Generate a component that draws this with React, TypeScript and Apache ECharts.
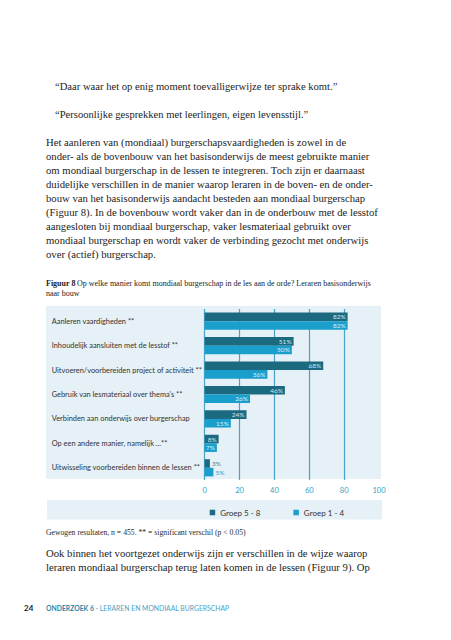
import React, { useEffect, useRef } from "react";
import * as echarts from "echarts";

const categories = [
  "Aanleren vaardigheden **",
  "Inhoudelijk aansluiten met de lesstof **",
  "Uitvoeren/voorbereiden project of activiteit **",
  "Gebruik van lesmateriaal over thema's **",
  "Verbinden aan onderwijs over burgerschap",
  "Op een andere manier, namelijk ...**",
  "Uitwisseling voorbereiden binnen de lessen **",
];
const groep58 = [82, 51, 68, 46, 24, 8, 3];
const groep14 = [82, 50, 36, 26, 15, 7, 5];
const seriesNames = ["Groep 5 - 8", "Groep 1 - 4"];

const quotes = [
  "\u201cDaar waar het op enig moment toevalligerwijze ter sprake komt.\u201d",
  "\u201cPersoonlijke gesprekken met leerlingen, eigen levensstijl.\u201d",
];
const paragraph1 = [
  "Het aanleren van (mondiaal) burgerschapsvaardigheden is zowel in de",
  "onder- als de bovenbouw van het basisonderwijs de meest gebruikte manier",
  "om mondiaal burgerschap in de lessen te integreren. Toch zijn er daarnaast",
  "duidelijke verschillen in de manier waarop leraren in de boven- en de onder-",
  "bouw van het basisonderwijs aandacht besteden aan mondiaal burgerschap",
  "(Figuur 8). In de bovenbouw wordt vaker dan in de onderbouw met de lesstof",
  "aangesloten bij mondiaal burgerschap, vaker lesmateriaal gebruikt over",
  "mondiaal burgerschap en wordt vaker de verbinding gezocht met onderwijs",
  "over (actief) burgerschap.",
];
const paragraph2 = [
  "Ook binnen het voortgezet onderwijs zijn er verschillen in de wijze waarop",
  "leraren mondiaal burgerschap terug laten komen in de lessen (Figuur 9). Op",
];
const figTitleBold = "Figuur 8";
const figTitle = [
  "Op welke manier komt mondiaal burgerschap in de les aan de orde? Leraren basisonderwijs",
  "naar bouw",
];
const caption = "Gewogen resultaten, n = 455. ** = significant verschil (p < 0.05)";
const pageNumber = "24";
const footerBold = "ONDERZOEK 6";
const footerRest = " - LERAREN EN MONDIAAL BURGERSCHAP";

const DARK = "#1b6a80";
const LIGHT = "#1a9fcd";
const PANEL = "#e5f0f7";
const GRIDLINE = "#4aa2c8";
const SERIF = "Liberation Serif";
const SANS = "Lato";
const BODY = "#1c1c1c";

export default function App() {
  const ref = useRef<HTMLDivElement>(null);
  useEffect(() => {
    const chart = echarts.init(ref.current!, null, { renderer: "svg" });
    const txt = (
      t: string,
      x: number,
      y: number,
      family: string,
      size: number,
      fill: string,
      weight: string = "normal"
    ) => ({
      type: "text",
      x,
      y,
      silent: true,
      style: {
        text: t,
        fill,
        fontFamily: family,
        fontSize: size,
        fontWeight: weight,
        verticalAlign: "middle",
      },
    });
    const graphics: any[] = [
      { type: "rect", z: -10, shape: { x: 46, y: 306, width: 335, height: 173 }, style: { fill: PANEL } },
      { type: "rect", z: -10, shape: { x: 47, y: 500, width: 335, height: 19.5 }, style: { fill: PANEL } },
      txt(quotes[0], 55, 86, SERIF, 10.6, BODY),
      txt(quotes[1], 55, 114.3, SERIF, 10.6, BODY),
      ...paragraph1.map((l, i) => txt(l, 46, 142.3 + i * 14, SERIF, 10.7, BODY)),
      ...paragraph2.map((l, i) => txt(l, 46, 552.7 + i * 14, SERIF, 10.7, BODY)),
      txt(figTitleBold, 46, 283.3, SERIF, 8, "#1c1c1c", "bold"),
      txt(figTitle[0], 77, 283.3, SERIF, 8, "#1c1c1c"),
      txt(figTitle[1], 46, 293.3, SERIF, 8, "#1c1c1c"),
      txt(caption, 46, 532.3, SERIF, 7.7, "#2a2a2a"),
      txt(pageNumber, 24, 608.3, SANS, 8, "#1c1c1c", "bold"),
      {
        type: "text",
        x: 46,
        y: 608.3,
        silent: true,
        style: {
          text: `{a|${footerBold}}{b|${footerRest}}`,
          verticalAlign: "middle",
          fontFamily: SANS,
          fontSize: 6.8,
          rich: {
            a: { fontFamily: SANS, fontSize: 6.8, fontWeight: "bold", fill: "#2a86a6" },
            b: { fontFamily: SANS, fontSize: 6.8, fill: "#4aa3c4" },
          },
        },
      },
    ];

    const labelFor = (v: number, outsideColor: string) =>
      v < 6
        ? { value: v, label: { position: "right", color: outsideColor, distance: 2 } }
        : { value: v };

    chart.setOption({
      animation: false,
      textStyle: { fontFamily: SANS },
      graphic: graphics,
      grid: { left: 204.7, right: 72, top: 309, height: 171, containLabel: false },
      xAxis: {
        type: "value",
        min: 0,
        max: 100,
        interval: 20,
        axisLine: { show: false },
        axisTick: { show: false },
        splitLine: { show: true, showMaxLine: false, lineStyle: { color: GRIDLINE, width: 1.2 } },
        axisLabel: { color: "#2aa3c8", fontSize: 7.5, margin: 6, fontFamily: SANS },
      },
      yAxis: {
        type: "category",
        inverse: true,
        data: categories,
        axisLine: { show: false },
        axisTick: { show: false },
        axisLabel: { align: "left", margin: 153, color: "#333", fontSize: 7.4, fontFamily: SANS },
      },
      legend: {
        left: 204.7,
        top: 503.5,
        icon: "rect",
        itemWidth: 5.5,
        itemHeight: 5.5,
        itemGap: 33,
        textStyle: { color: "#333", fontSize: 8, fontFamily: SANS },
        data: seriesNames,
      },
      series: [
        {
          name: seriesNames[0],
          type: "bar",
          data: groep58.map((v) => labelFor(v, "#3f8aa2")),
          itemStyle: { color: DARK },
          barWidth: 8.6,
          barGap: "0%",
          label: {
            show: true,
            position: "insideRight",
            formatter: "{c}%",
            color: "#cfe8f1",
            fontSize: 6.5,
            fontFamily: SANS,
            distance: 2,
          },
        },
        {
          name: seriesNames[1],
          type: "bar",
          data: groep14.map((v) => labelFor(v, "#2aa6d0")),
          itemStyle: { color: LIGHT },
          barWidth: 8.6,
          barGap: "0%",
          label: {
            show: true,
            position: "insideRight",
            formatter: "{c}%",
            color: "#d8eff7",
            fontSize: 6.5,
            fontFamily: SANS,
            distance: 2,
          },
        },
      ],
    });
    return () => chart.dispose();
  }, []);
  return (
    <div
      ref={ref}
      style={{ position: "absolute", left: 0, top: 0, width: 451, height: 640, background: "#fff" }}
    />
  );
}
